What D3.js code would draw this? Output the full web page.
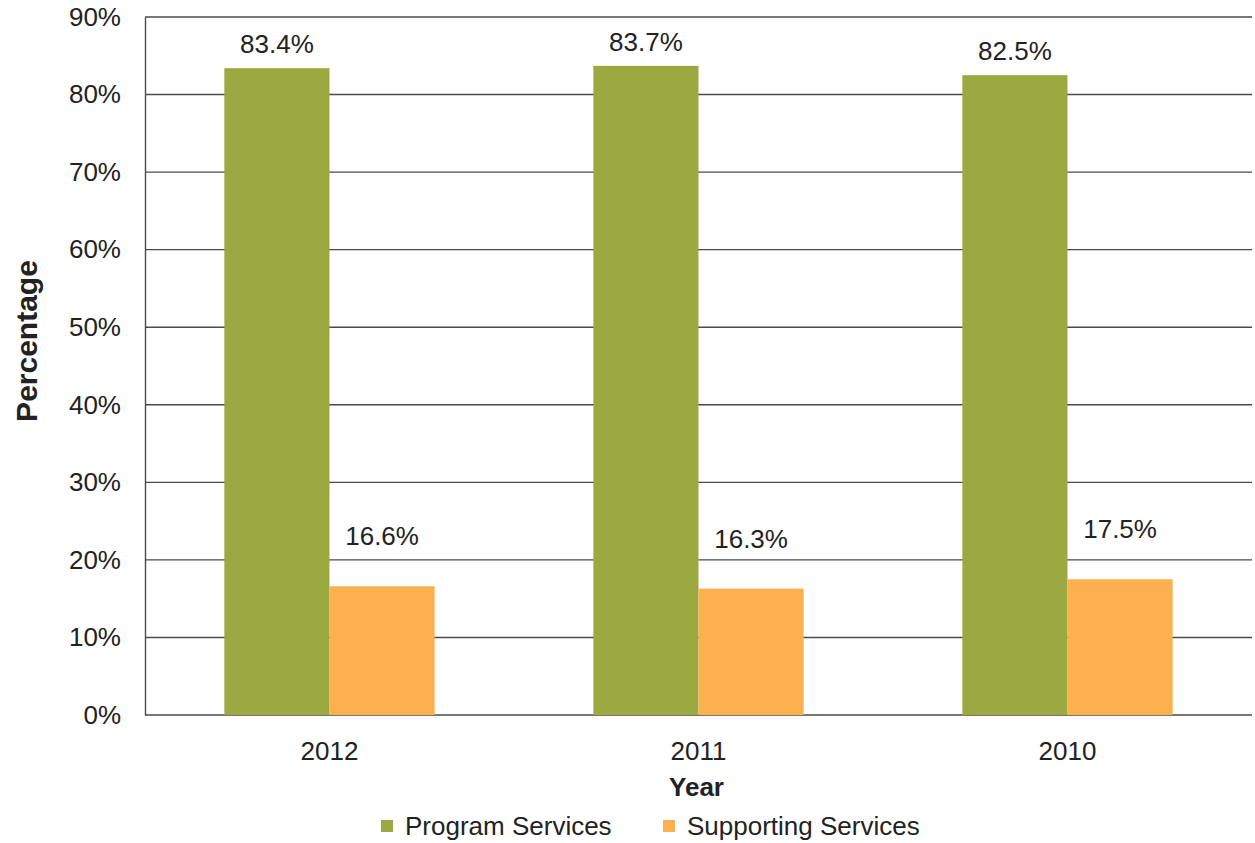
<!DOCTYPE html>
<html>
<head>
<meta charset="utf-8">
<script src="https://cdn.jsdelivr.net/npm/d3@7"></script>
<style>
  html, body { margin: 0; padding: 0; background: #fff; }
  svg { display: block; font-family: "Liberation Sans", Arial, sans-serif; }
</style>
</head>
<body>
<svg id="chart" width="1255" height="843"></svg>
<script>
// Expense allocation by year
const years = ["2012", "2011", "2010"];
const seriesNames = ["Program Services", "Supporting Services"];
const programServices = [83.4, 83.7, 82.5];
const supportingServices = [16.6, 16.3, 17.5];
const yTicks = [0, 10, 20, 30, 40, 50, 60, 70, 80, 90];
const seriesColors = ["#9aaa40", "#fcb14e"];

const svg = d3.select("#chart");
const margin = { top: 17, right: 3, bottom: 128, left: 145 };
const W = 1255, H = 843;
const innerW = W - margin.left - margin.right;
const innerH = H - margin.top - margin.bottom;
const fontSize = 26;

const g = svg.append("g").attr("transform", `translate(${margin.left},${margin.top})`);

const x0 = d3.scaleBand().domain(years).range([0, innerW]).paddingInner(0.43).paddingOuter(0.215);
const x1 = d3.scaleBand().domain(seriesNames).range([0, x0.bandwidth()]);
const y = d3.scaleLinear().domain([0, 90]).range([innerH, 0]);
const color = d3.scaleOrdinal().domain(seriesNames).range(seriesColors);

// Horizontal gridlines
g.append("g")
  .selectAll("line")
  .data(yTicks)
  .join("line")
  .attr("x1", 0).attr("x2", innerW)
  .attr("y1", d => y(d)).attr("y2", d => y(d))
  .attr("stroke", "#4a4a4a")
  .attr("stroke-width", 1.4);

// Left axis with percent labels
const yAxis = g.append("g")
  .call(d3.axisLeft(y).tickValues(yTicks).tickFormat(d => d + "%").tickSize(0).tickPadding(24));
yAxis.select(".domain").attr("stroke", "#4a4a4a").attr("stroke-width", 1.4);
yAxis.selectAll("text").attr("font-size", fontSize).attr("fill", "#222");

const rows = years.map((yr, i) => ({
  year: yr,
  values: [
    { key: seriesNames[0], value: programServices[i] },
    { key: seriesNames[1], value: supportingServices[i] }
  ]
}));

const groups = g.selectAll(".year")
  .data(rows)
  .join("g")
  .attr("class", "year")
  .attr("transform", d => `translate(${x0(d.year)},0)`);

groups.selectAll("rect")
  .data(d => d.values)
  .join("rect")
  .attr("x", d => x1(d.key))
  .attr("width", x1.bandwidth())
  .attr("y", d => y(d.value))
  .attr("height", d => innerH - y(d.value))
  .attr("fill", d => color(d.key));

// Value labels; supporting-services labels sit higher above their bars
const labelOffset = { "Program Services": 15, "Supporting Services": 41 };
groups.selectAll("text.val")
  .data(d => d.values)
  .join("text")
  .attr("class", "val")
  .attr("x", d => x1(d.key) + x1.bandwidth() / 2)
  .attr("y", d => y(d.value) - labelOffset[d.key])
  .attr("text-anchor", "middle")
  .attr("font-size", fontSize)
  .attr("fill", "#222")
  .text(d => d.value.toFixed(1) + "%");

// Category labels
g.append("g")
  .selectAll("text")
  .data(years)
  .join("text")
  .attr("x", d => x0(d) + x0.bandwidth() / 2)
  .attr("y", innerH + 45)
  .attr("text-anchor", "middle")
  .attr("font-size", fontSize)
  .attr("fill", "#222")
  .text(d => d);

// Axis titles
svg.append("text")
  .attr("x", margin.left + innerW / 2 - 2)
  .attr("y", 796)
  .attr("text-anchor", "middle")
  .attr("font-size", fontSize)
  .attr("font-weight", "bold")
  .attr("fill", "#222")
  .text("Year");

svg.append("text")
  .attr("transform", `translate(37,${margin.top + innerH / 2 - 25}) rotate(-90)`)
  .attr("text-anchor", "middle")
  .attr("font-size", 30)
  .attr("font-weight", "bold")
  .attr("fill", "#222")
  .text("Percentage");

// Legend
const legend = svg.append("g").attr("transform", "translate(381,826)");
const legendX = [0, 282];
seriesNames.forEach((name, i) => {
  const item = legend.append("g").attr("transform", `translate(${legendX[i]},0)`);
  item.append("rect")
    .attr("x", 0).attr("y", -6)
    .attr("width", 12).attr("height", 12)
    .attr("fill", color(name));
  item.append("text")
    .attr("x", 24).attr("y", 9)
    .attr("font-size", fontSize)
    .attr("fill", "#222")
    .text(name);
});
</script>
</body>
</html>
